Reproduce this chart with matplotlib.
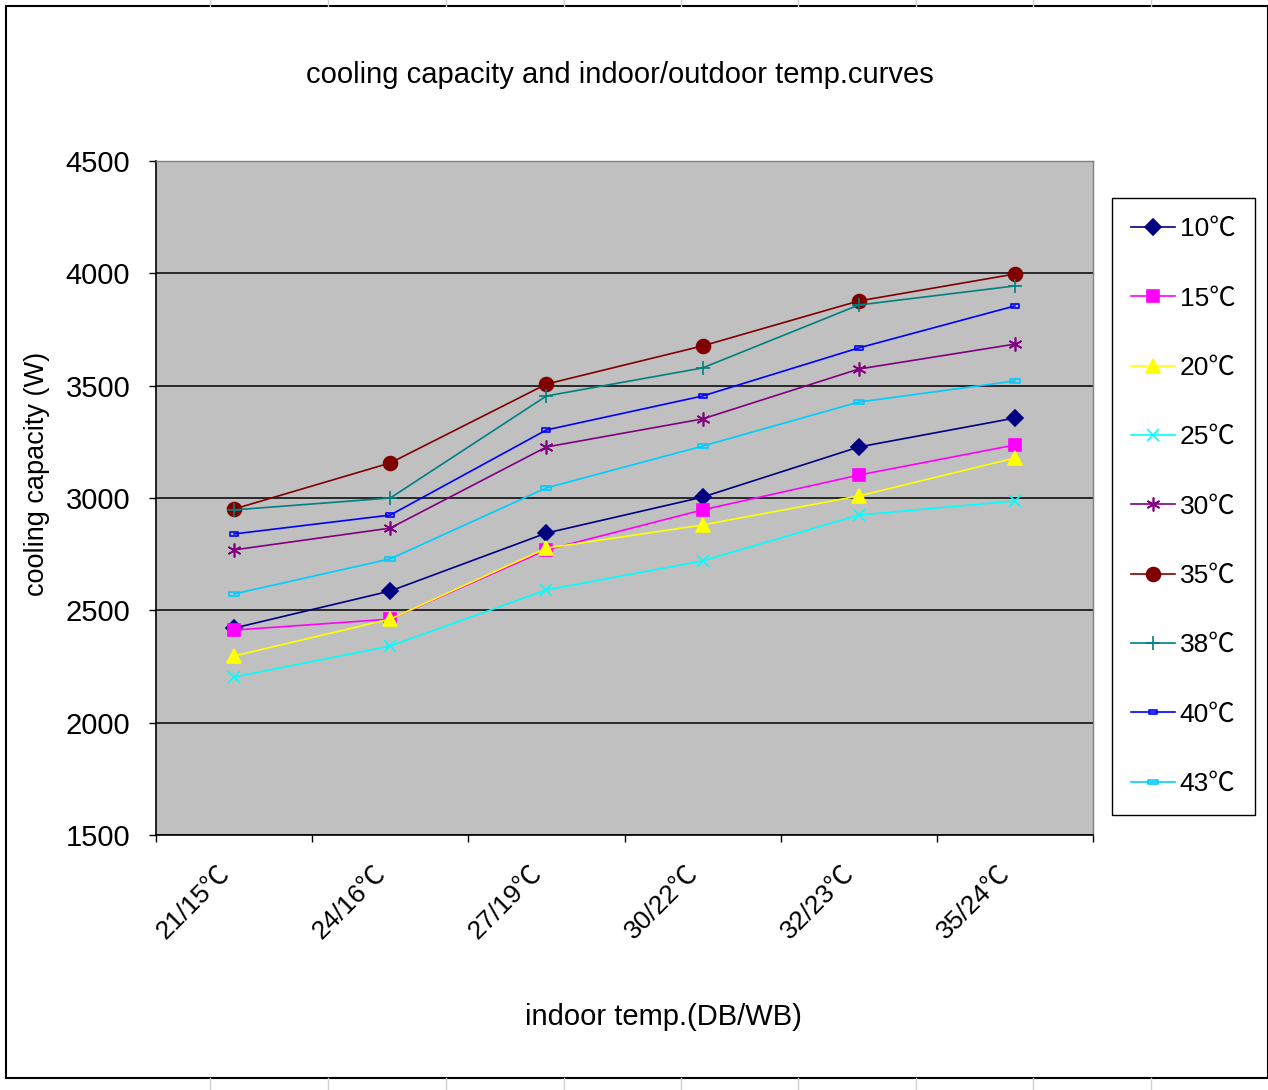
import matplotlib
matplotlib.use("Agg")
import matplotlib.pyplot as plt
from matplotlib.path import Path
from matplotlib.patches import Rectangle
from matplotlib.lines import Line2D

plt.rcParams['font.family'] = ['Liberation Sans', 'Noto Sans CJK SC', 'DejaVu Sans']

# indoor temperature categories (DB/WB)
categories = ["21/15℃", "24/16℃", "27/19℃", "30/22℃", "32/23℃", "35/24℃"]

# cooling capacity (W) per outdoor temperature
cap_10 = [2421, 2586, 2844, 3004, 3227, 3356]
cap_15 = [2412, 2461, 2769, 2947, 3102, 3236]
cap_20 = [2297, 2461, 2777, 2880, 3009, 3178]
cap_25 = [2203, 2341, 2591, 2720, 2924, 2987]
cap_30 = [2769, 2866, 3227, 3352, 3574, 3685]
cap_35 = [2951, 3156, 3507, 3677, 3877, 3997]
cap_38 = [2947, 3000, 3454, 3579, 3859, 3944]
cap_40 = [2840, 2924, 3303, 3454, 3668, 3855]
cap_43 = [2573, 2729, 3045, 3231, 3427, 3521]

y_ticks = [1500, 2000, 2500, 3000, 3500, 4000, 4500]

# small flat rectangle marker used by Excel for the last two series
rect = Path([(-1, -0.45), (1, -0.45), (1, 0.45), (-1, 0.45), (-1, -0.45)],
            [Path.MOVETO, Path.LINETO, Path.LINETO, Path.LINETO, Path.CLOSEPOLY])

series = [
    ("10℃", cap_10, "#000080", "D", 8, "#000080"),
    ("15℃", cap_15, "#FF00FF", "s", 9, "#FF00FF"),
    ("20℃", cap_20, "#FFFF00", "^", 10, "#FFFF00"),
    ("25℃", cap_25, "#00FFFF", "x", 9, "#00FFFF"),
    ("30℃", cap_30, "#800080", (6, 2, 0), 10, "#800080"),
    ("35℃", cap_35, "#800000", "o", 10, "#800000"),
    ("38℃", cap_38, "#008080", "+", 10, "#008080"),
    ("40℃", cap_40, "#0000FF", rect, 6, "none"),
    ("43℃", cap_43, "#00CCFF", rect, 7, "none"),
]

W, H = 1268, 1090
fig = plt.figure(figsize=(W / 100, H / 100), dpi=100, facecolor="white")

# chart area border (Excel chart object on a sheet)
fig.patches.append(Rectangle((6 / W, 12 / H), (W - 6) / W, (H - 18) / H,
                             transform=fig.transFigure, fill=False,
                             edgecolor="black", lw=1.5))
for xg in [210, 328, 446, 564, 681, 798, 916, 1033, 1151]:
    fig.add_artist(Line2D([xg / W, xg / W], [1 - 6 / H, 1], color="#d0d0d0", lw=1,
                          transform=fig.transFigure))
    fig.add_artist(Line2D([xg / W, xg / W], [0, 12 / H], color="#d0d0d0", lw=1,
                          transform=fig.transFigure))

ax = fig.add_axes([156 / W, 1 - 835 / H, (1093 - 156) / W, (835 - 161) / H])
ax.set_facecolor("#C0C0C0")

x = list(range(len(categories)))
for label, vals, color, marker, ms, mfc in series:
    ax.plot(x, vals, color=color, lw=1.2, marker=marker, markersize=ms,
            markerfacecolor=mfc, markeredgecolor=color, markeredgewidth=1.2,
            label=label, clip_on=False)

ax.set_xlim(-0.5, len(categories) - 0.5)
ax.set_ylim(1500, 4500)
ax.set_yticks(y_ticks)
ax.set_yticklabels([str(v) for v in y_ticks], fontsize=21)
ax.yaxis.grid(True, color="black", lw=1.1)
ax.set_axisbelow(True)

ax.set_xticks([i - 0.5 for i in range(len(categories) + 1)])
ax.set_xticks(x, minor=True)
ax.set_xticklabels([])
ax.set_xticklabels(categories, minor=True, rotation=45, ha="right", va="top",
                   fontsize=19)
ax.tick_params(axis="x", which="major", direction="out", length=5, width=1)
ax.tick_params(axis="x", which="minor", length=0, pad=19)
ax.tick_params(axis="y", direction="out", length=5, width=1, pad=13.5)

for side in ["left", "bottom"]:
    ax.spines[side].set_color("black")
    ax.spines[side].set_linewidth(1.2)
for side in ["top", "right"]:
    ax.spines[side].set_color("#808080")
    ax.spines[side].set_linewidth(1)

fig.text(620 / W, 1 - 75 / H, "cooling capacity and indoor/outdoor temp.curves",
         ha="center", va="center", fontsize=21)
fig.text(663 / W, 1 - 1017 / H, "indoor temp.(DB/WB)", ha="center", va="center",
         fontsize=21)
fig.text(37 / W, 1 - 474 / H, "cooling capacity (W)", ha="center", va="center",
         rotation=90, fontsize=19.5)

leg = ax.legend(loc="upper left", bbox_to_anchor=(1112 / W, 1 - 198 / H),
                bbox_transform=fig.transFigure, fontsize=19, frameon=True,
                fancybox=False, edgecolor="black", framealpha=1,
                handlelength=1.65, handletextpad=0.2, labelspacing=1.72,
                borderpad=0.72, borderaxespad=0)
leg.get_frame().set_linewidth(1)

fig.savefig("out.png", dpi=100, facecolor="white")
